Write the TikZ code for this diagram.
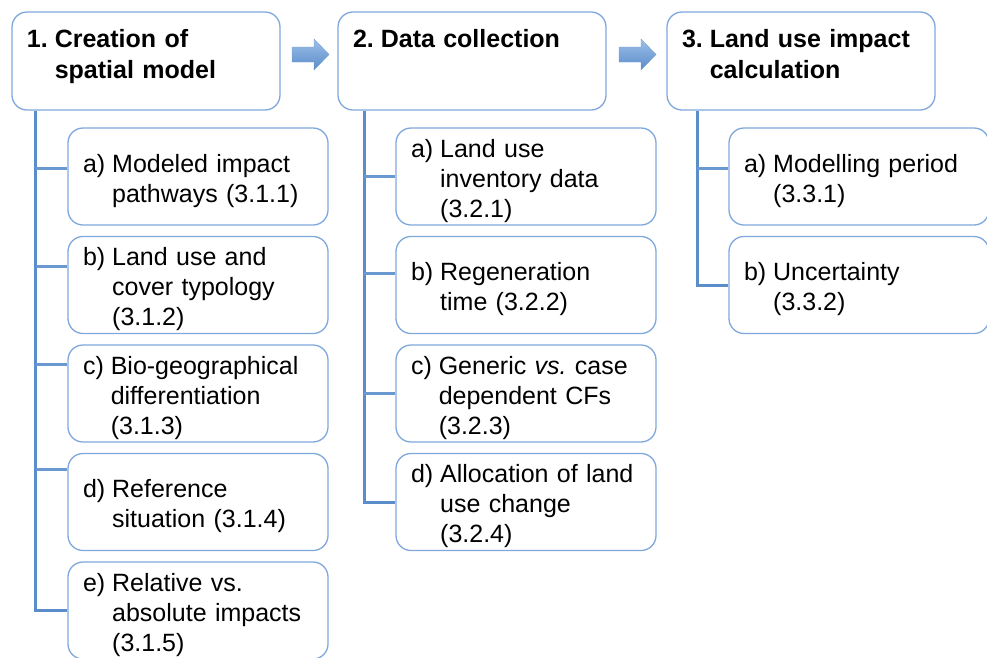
\documentclass[tikz,border=0pt]{standalone}
\usepackage{fontspec}
\setmainfont{Liberation Sans}
\usetikzlibrary{calc}
\definecolor{bord}{HTML}{7FA8DC}
\definecolor{treec}{HTML}{5B8DCB}
\definecolor{connc}{HTML}{6A98D0}
\definecolor{arT}{HTML}{9CC0EA}
\definecolor{arB}{HTML}{5A8BC8}
\newcommand\subitm[2]{\noindent\raisebox{-4.5pt}[\height][\depth]{\begin{tabular}{@{}l@{\hspace{6.95pt}}l@{}}#1&#2\end{tabular}}}
\newcommand\ttlitm[2]{\noindent\raisebox{4.7pt}[\height][\depth]{\bfseries\begin{tabular}{@{}l@{\hspace{6.95pt}}l@{}}#1&#2\end{tabular}}}
\begin{document}
\begin{tikzpicture}[x=1pt,y=-1pt,
  sbox/.style={draw=bord, line width=1.3pt, rounded corners=15pt, fill=white,
    minimum width=260pt, minimum height=97pt, text width=230pt,
    inner xsep=15pt, inner ysep=0pt, align=left, font=\fontsize{25}{30}\selectfont},
  tbox/.style={draw=bord, line width=1.3pt, rounded corners=15pt, fill=white,
    minimum width=268pt, minimum height=98pt, text width=238pt,
    inner xsep=15pt, inner ysep=0pt, align=left, font=\fontsize{25}{31}\selectfont},
  tree/.style={draw=treec, line width=3pt},
  conn/.style={draw=connc, line width=3pt},
  blockarrow/.style={top color=arT, bottom color=arB, draw=arB!80, line width=0.4pt}]
\fill[white] (0,0) rectangle (987,657);
\useasboundingbox (0,0) rectangle (987,657);

% title boxes
\node[tbox] (t1) at (146,61) {\ttlitm{1.}{Creation of\\ & spatial model}};
\node[tbox] (t2) at (472,61) {\ttlitm{2.}{Data collection\\ & }};
\node[tbox] (t3) at (801,61) {\ttlitm{3.}{Land use impact\\ & calculation}};

% arrows
\shade[blockarrow] (292,47) -- (314,47) -- (314,39) -- (329,54.5) -- (314,70) -- (314,62) -- (292,62) -- cycle;
\shade[blockarrow] (619,47) -- (641,47) -- (641,39) -- (656,54.5) -- (641,70) -- (641,62) -- (619,62) -- cycle;

% column 1
\node[sbox] (a1) at (198,176.5) {\subitm{a)}{Modeled impact\\ & pathways (3.1.1)}};
\node[sbox] (b1) at (198,285) {\subitm{b)}{Land use and\\ & cover typology\\ & (3.1.2)}};
\node[sbox] (c1) at (198,393.5) {\subitm{c)}{Bio-geographical\\ & differentiation\\ & (3.1.3)}};
\node[sbox] (d1) at (198,502) {\subitm{d)}{Reference\\ & situation (3.1.4)}};
\node[sbox] (e1) at (198,610.5) {\subitm{e)}{Relative vs.\\ & absolute impacts\\ & (3.1.5)}};

% column 2
\node[sbox] (a2) at (526,176.5) {\subitm{a)}{Land use\\ & inventory data\\ & (3.2.1)}};
\node[sbox] (b2) at (526,285) {\subitm{b)}{Regeneration\\ & time (3.2.2)}};
\node[sbox] (c2) at (526,393.5) {\subitm{c)}{Generic \textit{vs.}\ case\\ & dependent CFs\\ & (3.2.3)}};
\node[sbox] (d2) at (526,502) {\subitm{d)}{Allocation of land\\ & use change\\ & (3.2.4)}};

% column 3
\node[sbox] (a3) at (859,176.5) {\subitm{a)}{Modelling period\\ & (3.3.1)}};
\node[sbox] (b3) at (859,285) {\subitm{b)}{Uncertainty\\ & (3.3.2)}};

% connector anchors
\coordinate (L1) at ($(t1.south west)+(24.5,0)$);
\coordinate (L2) at ($(t2.south west)+(27,0)$);
\coordinate (L3) at ($(t3.south west)+(31,0)$);
\coordinate (ca1) at ($(a1.west)+(0,-8.5)$);
\coordinate (cb1) at ($(b1.west)+(0,-19)$);
\coordinate (cc1) at ($(c1.west)+(0,-29.5)$);
\coordinate (cd1) at ($(d1.west)+(0,-33)$);
\coordinate (ca2) at ($(a2.west)+(0,-0.5)$);
\coordinate (cb2) at ($(b2.west)+(0,-12)$);
\coordinate (cc2) at ($(c2.west)+(0,-0.5)$);
\coordinate (ca3) at ($(a3.west)+(0,-8.5)$);

% tree lines
\draw[tree] (L1) |- (e1.west);
\draw[conn] (L1 |- ca1) -- (ca1);
\draw[conn] (L1 |- cb1) -- (cb1);
\draw[conn] (L1 |- cc1) -- (cc1);
\draw[conn] (L1 |- cd1) -- (cd1);

\draw[tree] (L2) |- (d2.west);
\draw[conn] (L2 |- ca2) -- (ca2);
\draw[conn] (L2 |- cb2) -- (cb2);
\draw[conn] (L2 |- cc2) -- (cc2);

\draw[tree] (L3) |- (b3.west);
\draw[conn] (L3 |- ca3) -- (ca3);
\end{tikzpicture}
\end{document}
